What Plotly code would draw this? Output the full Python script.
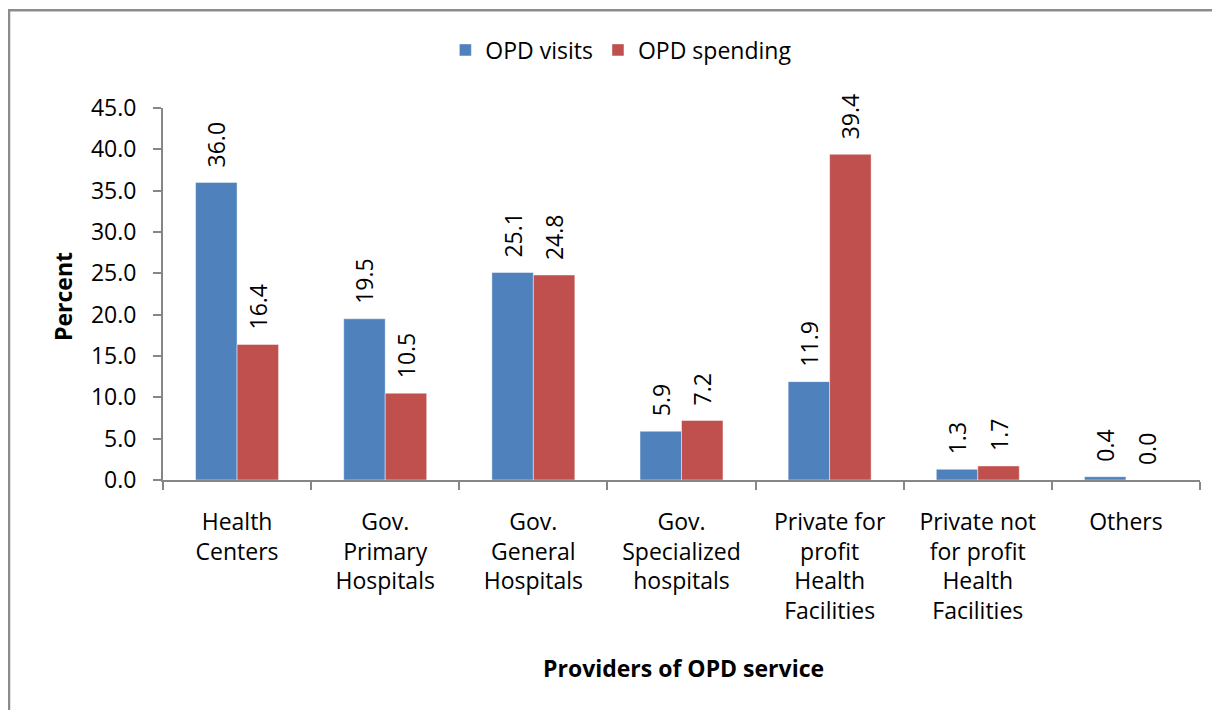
import plotly.graph_objects as go

PROVIDERS = [
    "Health<br>Centers",
    "Gov.<br>Primary<br>Hospitals",
    "Gov.<br>General<br>Hospitals",
    "Gov.<br>Specialized<br>hospitals",
    "Private for<br>profit<br>Health<br>Facilities",
    "Private not<br>for profit<br>Health<br>Facilities",
    "Others",
]
OPD_VISITS = [36.0, 19.5, 25.1, 5.9, 11.9, 1.3, 0.4]
OPD_SPENDING = [16.4, 10.5, 24.8, 7.2, 39.4, 1.7, 0.0]

FONT = "'Open Sans', Lato, sans-serif"
SIZE = 23
AXIS_GRAY = "#868686"

fig = go.Figure()
for name, values, color in [
    ("OPD visits", OPD_VISITS, "#4F81BD"),
    ("OPD spending", OPD_SPENDING, "#C0504D"),
]:
    fig.add_bar(
        x=PROVIDERS,
        y=values,
        name=name,
        marker=dict(color=color, line=dict(color="rgba(255,255,255,0.45)", width=1)),
        # leading non-breaking spaces leave a gap between bar and rotated label
        text=[f"\u00a0\u00a0{v:.1f}" for v in values],
        textposition="outside",
        textangle=-90,
        constraintext="none",
        cliponaxis=False,
        textfont=dict(family=FONT, size=SIZE, color="#000000"),
    )

fig.update_layout(
    width=1220,
    height=710,
    barmode="group",
    bargap=0.44,
    bargroupgap=0,
    plot_bgcolor="white",
    paper_bgcolor="white",
    font=dict(family=FONT, size=SIZE, color="#000000"),
    margin=dict(l=155, r=28, t=100, b=238),
    showlegend=True,
    legend=dict(
        orientation="h",
        x=0.442,
        xanchor="center",
        y=1.156,
        yanchor="middle",
        font=dict(size=SIZE),
        itemwidth=30,
    ),
    shapes=[
        dict(
            type="rect", xref="paper", yref="paper",
            x0=-0.1485, x1=1.05, y0=-0.7, y1=1.263,
            line=dict(color="#8C8C8C", width=2.5),
            fillcolor="rgba(0,0,0,0)",
            layer="below",
        )
    ],
    annotations=[
        dict(
            text="<b>Percent</b>", xref="paper", yref="paper",
            x=(63 - 163) / 1037, y=(480 - 297) / 372,
            xanchor="center", yanchor="middle",
            textangle=-90, showarrow=False, font=dict(size=SIZE),
        ),
        dict(
            text="<b>Providers of OPD service</b>", xref="paper", yref="paper",
            x=(683 - 163) / 1037, y=(480 - 668) / 372,
            xanchor="center", yanchor="middle",
            showarrow=False, font=dict(size=SIZE),
        ),
    ],
)

fig.update_yaxes(
    range=[0, 45],
    dtick=5,
    tickformat=".1f",
    showgrid=False,
    zeroline=False,
    showline=True,
    linecolor=AXIS_GRAY,
    linewidth=2,
    ticks="outside",
    ticklen=8,
    tickwidth=2,
    tickcolor=AXIS_GRAY,
    ticklabelstandoff=12,
)
fig.update_xaxes(
    showgrid=False,
    showline=True,
    linecolor=AXIS_GRAY,
    linewidth=2,
    ticks="outside",
    ticklen=8,
    tickwidth=2,
    tickcolor=AXIS_GRAY,
    tickson="boundaries",
    ticklabelstandoff=20,
)

fig.write_html("out.html")
